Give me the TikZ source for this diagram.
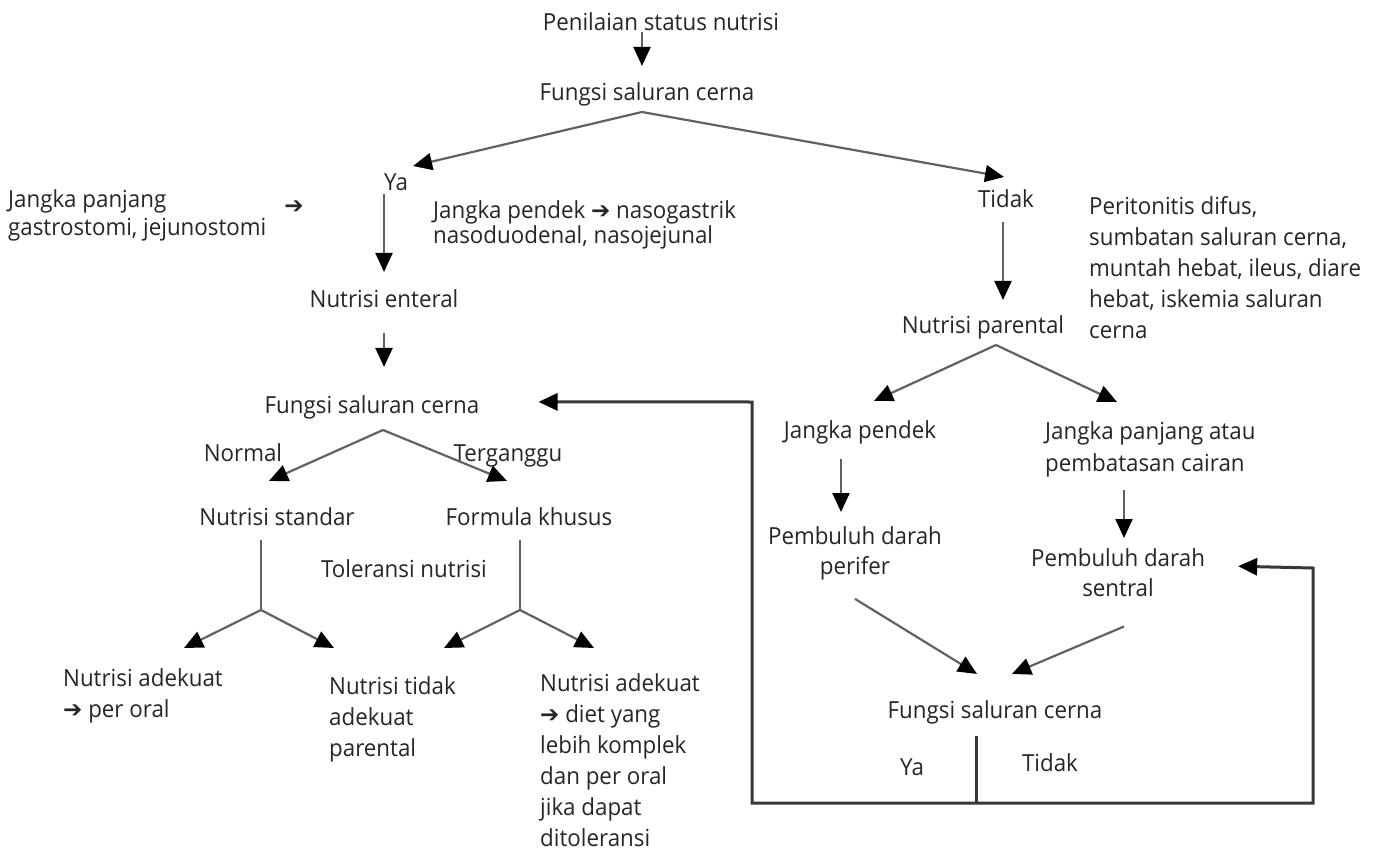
\documentclass[tikz,border=0pt]{standalone}
\usepackage{fontspec}
\setmainfont{Open Sans}[FakeStretch=0.95]
\newfontfamily\symf{DejaVu Sans}
\usetikzlibrary{arrows.meta,calc}
\newcommand{\harr}{{\symf\fontsize{23}{23}\selectfont ➔}}
\begin{document}
\begin{tikzpicture}[x=1pt,y=-1pt,
  txt/.style={inner sep=0pt, font=\fontsize{23.5}{31}\selectfont, text=black!85},
  arr/.style={draw=black!62, line width=2.2pt, -{Triangle[length=19pt,width=17pt,color=black]}},
  ln/.style={draw=black!62, line width=2.2pt},
  fb/.style={draw=black!78, line width=3pt},
  fbarr/.style={fb, -{Triangle[length=19pt,width=17pt,color=black]}}]
\useasboundingbox (0,0) rectangle (1378,850);
\fill[white] (0,0) rectangle (1378,850);

% text nodes
\node[txt,anchor=base] (pen) at (661,31) {Penilaian status nutrisi};
\node[txt,anchor=base] (fsc1) at (647,101) {Fungsi saluran cerna};
\node[txt,anchor=base] (ya1) at (396,191) {Ya};
\node[txt,anchor=north west,align=left,font=\fontsize{23.5}{28}\selectfont] (jpj) at (8,189) {Jangka panjang\\gastrostomi, jejunostomi};
\node[txt,anchor=base] (ar1) at (294,214) {\harr};
\node[txt,anchor=north west,align=left,font=\fontsize{23.5}{25}\selectfont] (jpd) at (433,200) {Jangka pendek \harr\ nasogastrik\\nasoduodenal, nasojejunal};
\node[txt,anchor=base] (tid1) at (1006,208) {Tidak};
\node[txt,anchor=north west,align=left] (per) at (1089,196) {Peritonitis difus,\\sumbatan saluran cerna,\\muntah hebat, ileus, diare\\hebat, iskemia saluran\\cerna};
\node[txt,anchor=base] (npar) at (983,333) {Nutrisi parental};
\node[txt,anchor=base] (nent) at (384,307) {Nutrisi enteral};
\node[txt,anchor=base] (fsc2) at (372,413) {Fungsi saluran cerna};
\node[txt,anchor=base] (nor) at (243,461) {Normal};
\node[txt,anchor=base] (ter) at (508,461) {Terganggu};
\node[txt,anchor=base] (nstd) at (277,525) {Nutrisi standar};
\node[txt,anchor=base] (fkh) at (529,525) {Formula khusus};
\node[txt,anchor=base] (tol) at (404,577) {Toleransi nutrisi};
\node[txt,anchor=north west,align=left] (nad1) at (63,668) {Nutrisi adekuat\\\harr\ per oral};
\node[txt,anchor=north west,align=left] (ntd) at (329,676) {Nutrisi tidak\\adekuat\\parental};
\node[txt,anchor=north west,align=left] (nad2) at (540,673) {Nutrisi adekuat\\\harr\ diet yang\\lebih komplek\\dan per oral\\jika dapat\\ditoleransi};
\node[txt,anchor=base] (jpe) at (860,438) {Jangka pendek};
\node[txt,anchor=north west,align=left,font=\fontsize{23.5}{32}\selectfont] (jpa) at (1045,421) {Jangka panjang atau\\pembatasan cairan};
\node[txt,anchor=north,align=center,font=\fontsize{23.5}{30}\selectfont] (pdp) at (855,526) {Pembuluh darah\\perifer};
\node[txt,anchor=north,align=center,font=\fontsize{23.5}{30}\selectfont] (pds) at (1118,548) {Pembuluh darah\\sentral};
\node[txt,anchor=base] (fsc3) at (995,718) {Fungsi saluran cerna};
\node[txt,anchor=base] (ya3) at (912,775) {Ya};
\node[txt,anchor=base] (tid3) at (1050,771) {Tidak};

% junctions
\coordinate (p1) at (642,112);
\coordinate (p2) at (996,345);
\coordinate (p3) at (383,430);
\coordinate (q1) at (261,610);
\coordinate (q2) at (520,610);
\coordinate (j) at (976,803);
\coordinate (fbL) at (752,402);
\coordinate (fbR) at (1313,568);
\coordinate (tv) at ($(tid1.south)+(-3,14)$);

% connectors
\draw[arr,shorten <=1pt,shorten >=17pt] (pen.south -| p1) -- (fsc1.north -| p1);
\draw[arr] (p1) -- ($(ya1.north east)+(5,-8)$);
\draw[arr] (p1) -- ($(tid1.north)+(-2,-13)$);
\draw[arr,shorten <=3pt,shorten >=17pt] (nent.north |- ya1.south) -- (nent.north);
\draw[arr,shorten <=26pt,shorten >=28pt] (nent.south) -- (nent.south |- fsc2.north);
\draw[arr,shorten >=15pt] (tv) -- (tv |- npar.north);
\draw[arr] (p2) -- ($(jpe.north)+(14,-19)$);
\draw[arr] (p2) -- ($(jpa.north west)+(72,-19)$);
\draw[arr] (p3) -- ($(nstd.north)+(-8,-26)$);
\draw[arr] (p3) -- ($(fkh.north)+(-22,-26)$);
\draw[arr] ($(jpe.south)+(-19,15)$) -- ($(pdp.north)+(-14,-14)$);
\draw[arr] ($(jpa.south west)+(79,13)$) -- ($(pds.north)+(6,-10)$);
\draw[ln] ($(nstd.south)+(-16,15)$) -- (q1);
\draw[arr] (q1) -- ($(nad1.north west)+(121,-20)$);
\draw[arr] (q1) -- ($(ntd.north west)+(5,-28)$);
\draw[ln] ($(fkh.south)+(-9,15)$) -- (q2);
\draw[arr] (q2) -- ($(ntd.north west)+(115,-28)$);
\draw[arr] (q2) -- ($(nad2.north west)+(54,-25)$);
\draw[arr] ($(pdp.south)+(0,19)$) -- ($(fsc3.north)+(-18,-26)$);
\draw[arr] ($(pds.south)+(6,30)$) -- ($(fsc3.north)+(17,-26)$);
\draw[fb] ($(fsc3.south)+(-19,12)$) -- (j);
\draw[fbarr] (j) -| (fbL) -- ($(fsc2.east)+(59,-5)$);
\draw[fbarr] (j) -| (fbR) -- ($(pds.east)+(33,-6)$);
\end{tikzpicture}
\end{document}
